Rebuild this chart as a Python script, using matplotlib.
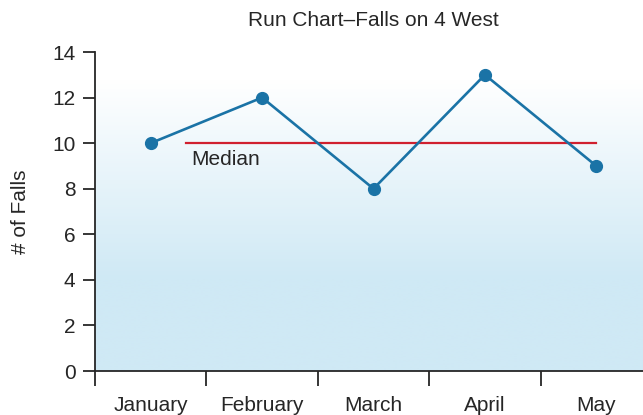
import numpy as np
import matplotlib.pyplot as plt
from matplotlib.colors import LinearSegmentedColormap

# data
months = ['January', 'February', 'March', 'April', 'May']
falls = [10, 12, 8, 13, 9]
median_value = 10
yticks = [0, 2, 4, 6, 8, 10, 12, 14]

plt.rcParams['font.family'] = ['Liberation Sans', 'DejaVu Sans']
dark = '#262626'

fig = plt.figure(figsize=(6.43, 4.15), dpi=100)
# axes run a little past the right edge of the figure, like the original
ax = fig.add_axes([95 / 643, 44 / 415, 557 / 643, 319 / 415])

x = np.arange(len(months))
ax.set_xlim(-0.5, len(months) - 0.5)
ax.set_ylim(0, 14)

# background gradient: white at top, light blue near the bottom
levels = np.linspace(0, 14, 256)
vals = np.clip((levels - 4.0) / (12.8 - 4.0), 0, 1).reshape(-1, 1)
bg = LinearSegmentedColormap.from_list('bg', ['#cfe9f5', '#ffffff'])
ax.imshow(vals, cmap=bg, extent=(-0.5, len(months) - 0.5, 0, 14),
          origin='lower', aspect='auto', zorder=0, interpolation='bilinear')

# median line and label
ax.plot([0.315, 4.0], [median_value, median_value], color='#d0202e', lw=1.6, zorder=2)
ax.text(0.36, 9.27, 'Median', fontsize=15, color=dark, va='center', ha='left')

# run line
ax.plot(x, falls, color='#1a73a6', lw=1.9, marker='o', ms=8.5, zorder=3)

ax.set_title('Run Chart\u2013Falls on 4 West', fontsize=15, color=dark, pad=19)
ax.set_ylabel('# of Falls', fontsize=15, color=dark, labelpad=16)

ax.set_yticks(yticks)
ax.tick_params(axis='y', length=9, width=1.3, color=dark, labelsize=15,
               labelcolor=dark, pad=5)

# month labels sit between the tick marks
ax.set_xticks(x)
ax.set_xticklabels(months)
ax.set_xticks(np.arange(-0.5, len(months)), minor=True)
ax.tick_params(axis='x', which='major', length=0, labelsize=15,
               labelcolor=dark, pad=18)
ax.tick_params(axis='x', which='minor', length=10.5, width=1.3, color=dark)

for side in ['top', 'right']:
    ax.spines[side].set_visible(False)
for side in ['left', 'bottom']:
    ax.spines[side].set_color(dark)
    ax.spines[side].set_linewidth(1.3)

fig.savefig('out.png', dpi=100)
